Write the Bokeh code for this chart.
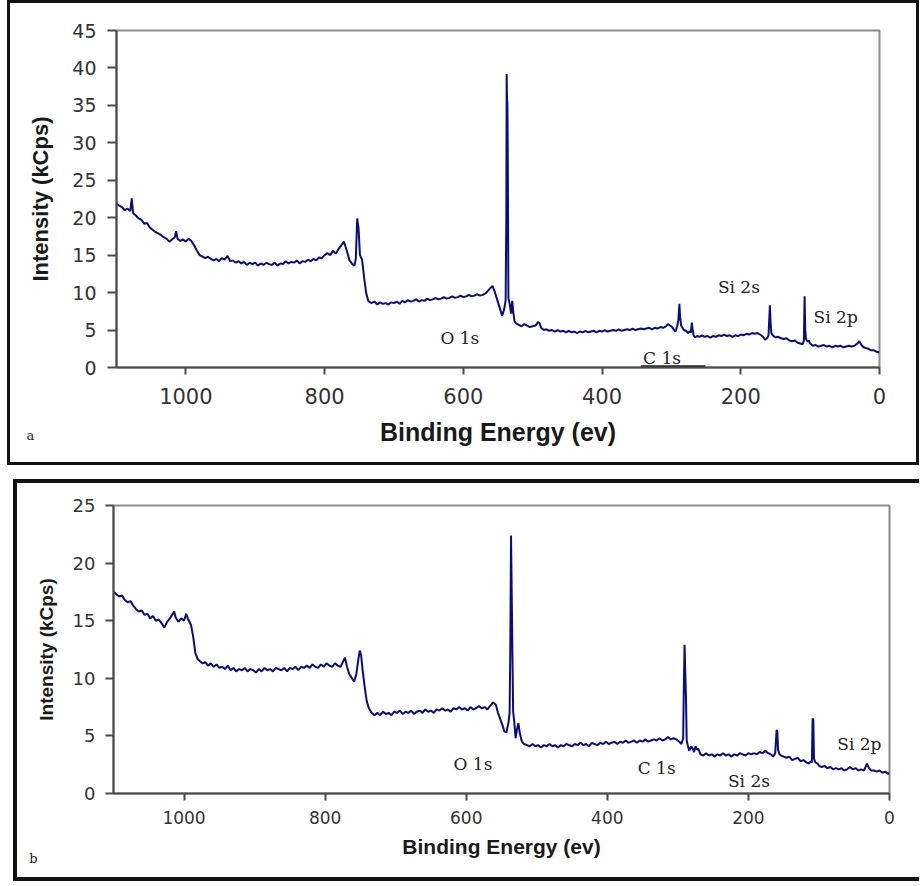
from bokeh.plotting import figure
from bokeh.layouts import column
from bokeh.models import Range1d, FixedTicker, Label
from bokeh.embed import file_html
from bokeh.resources import INLINE

# ---------------- data: panel a ----------------
energy_a = [1100,1096,1092,1088,1084,1080,1078,1076,1072,1068,1064,1060,1056,1052,1048,1044,1040,1036,1032,1028,
            1024,1020,1016,1014,1012,1008,1004,1000,996,992,988,984,980,976,972,968,964,960,956,952,
            948,944,940,936,932,928,924,920,916,912,908,904,900,896,892,888,884,880,876,872,
            868,864,860,856,852,848,844,840,836,832,828,824,820,816,812,808,804,800,796,792,
            788,784,780,776,772,768,764,760,757,755,753,751,749,746,743,740,737,733,728,724,
            720,716,712,708,704,700,696,692,688,684,680,676,672,668,664,660,656,652,648,644,
            640,636,632,628,624,620,616,612,608,604,600,596,592,588,584,580,576,572,568,564,
            561,558,555,552,549,546,544,541,539,538,537.5,537,536.5,536,535.5,535,533,531,529.5,528,
            526,524,520,516,512,508,504,500,496,492,490,488,484,480,476,472,468,464,460,456,
            452,448,444,440,436,432,428,424,420,416,412,408,404,400,396,392,388,384,380,376,
            372,368,364,360,356,352,348,344,340,336,332,328,324,320,316,312,308,305,302,299,
            296,294,292,290,288.5,287.5,286,284,282,279,276,274,272,270.5,269.5,268,266,263,260,256,
            252,248,244,240,236,232,228,224,220,216,212,208,204,200,196,192,188,184,180,176,
            172,168,165,162,160,158,157,156,154,150,146,142,138,134,130,126,122,118,114,111,
            109,108,107,106,104,102,100,96,92,88,84,80,76,72,68,64,60,56,52,48,
            44,40,36,32,29,26,23,20,16,12,8,4,0]
intensity_a = [21.9,21.6,21.4,21.0,21.2,20.9,22.6,20.6,20.3,19.9,19.7,19.2,19.3,18.7,18.4,18.1,17.9,17.7,17.4,17.2,
               16.8,17.1,17.4,18.2,17.2,16.9,17.1,16.8,17.2,16.9,16.3,15.6,15.0,14.8,14.6,14.8,14.5,14.3,14.5,14.2,
               14.6,14.4,14.9,14.2,14.3,14.0,14.2,13.9,14.1,13.7,14.0,13.8,14.0,13.6,13.9,13.7,14.0,13.8,13.7,14.0,
               13.6,13.9,13.8,14.2,13.9,14.1,14.0,14.3,13.9,14.2,14.1,14.4,14.2,14.5,14.3,14.7,14.6,15.0,15.3,15.0,
               15.6,15.2,15.8,16.3,16.8,15.6,14.3,13.8,13.6,14.5,19.9,18.5,15.0,14.4,12.0,9.9,8.9,8.6,8.8,8.4,
               8.7,8.5,8.6,8.4,8.7,8.6,8.8,8.5,8.9,8.7,9.0,8.8,8.9,9.1,8.8,9.0,8.9,9.2,9.0,9.1,
               9.3,9.1,9.2,9.4,9.2,9.3,9.5,9.3,9.4,9.6,9.4,9.5,9.7,9.5,9.6,9.8,9.6,9.7,9.9,10.3,
               10.6,10.9,10.2,9.3,8.4,7.5,6.9,7.8,9.0,20.0,39.2,36.0,35.2,30.0,20.0,9.3,8.4,7.2,8.9,7.4,
               6.1,5.9,5.7,5.5,5.8,5.6,5.4,5.5,5.6,6.1,5.9,5.3,5.0,5.1,4.9,5.0,4.8,5.0,4.8,4.9,
               4.7,4.9,4.7,4.8,4.6,4.8,4.7,4.9,4.7,4.8,4.9,4.7,4.9,4.8,5.0,4.8,4.9,5.0,4.9,5.1,
               4.9,5.0,5.1,5.0,5.2,5.0,5.1,5.2,5.1,5.2,5.3,5.1,5.3,5.2,5.4,5.3,5.5,5.8,5.6,5.4,
               5.0,4.8,5.4,6.3,8.5,6.8,5.6,5.3,5.0,4.9,4.6,4.8,4.7,6.0,5.2,4.3,4.0,4.2,4.1,4.3,
               4.1,4.2,4.0,4.2,4.1,4.3,4.2,4.4,4.2,4.3,4.1,4.3,4.2,4.4,4.3,4.5,4.4,4.6,4.5,4.6,
               4.4,4.1,3.7,3.9,4.3,8.3,6.0,4.6,4.3,4.0,4.1,3.9,3.8,3.9,3.6,3.5,3.6,3.3,3.2,3.1,
               3.6,9.5,5.0,3.8,3.5,3.6,3.2,2.9,3.0,2.8,2.9,3.0,2.8,2.9,2.7,2.9,2.8,2.9,2.7,2.8,
               2.9,2.8,2.9,3.2,3.5,3.0,2.7,2.6,2.5,2.3,2.3,2.1,2.0]

# ---------------- data: panel b ----------------
energy_b = [1100,1096,1092,1088,1084,1080,1076,1072,1068,1064,1060,1056,1052,1048,1044,1040,1036,1032,1028,1024,
            1020,1016,1014,1012,1008,1004,1000,997,994,990,987,984,981,978,974,970,966,962,958,954,
            950,946,942,938,934,930,926,922,918,914,910,906,902,898,894,890,886,882,878,874,
            870,866,862,858,854,850,846,842,838,834,830,826,822,818,814,810,806,802,798,794,
            790,786,782,778,775,772,769,766,762,759,756,753,751,749,747,744,741,738,734,730,
            726,722,718,714,710,706,702,698,694,690,686,682,678,674,670,666,662,658,654,650,
            646,642,638,634,630,626,622,618,614,610,606,602,598,594,590,586,582,578,574,570,
            566,562,558,555,552,549,546,543,540,538.5,537.5,536.5,535.5,534.5,533.5,532,530,528,526,524,
            521,518,514,510,506,502,498,494,490,486,482,478,474,470,466,462,458,454,450,446,
            442,438,434,430,426,422,418,414,410,406,402,398,394,390,386,382,378,374,370,366,
            362,358,354,350,346,342,338,334,330,326,322,318,314,310,306,302,298,295,292.5,291.5,
            290.5,289.5,288.5,287.5,286,284,281,279,277,275,273,271,268,264,260,256,252,248,244,240,
            236,232,228,224,220,216,212,208,204,200,196,192,188,184,180,176,172,168,165,162,
            160,159,158,156,154,150,146,142,138,134,130,126,122,118,114,112,110,109,108,107,
            105,102,100,96,92,88,84,80,76,72,68,64,60,56,52,48,44,40,36,32,
            29,26,22,18,14,10,6,2,0]
intensity_b = [17.5,17.3,17.1,17.2,16.8,16.6,16.7,16.3,16.0,15.8,15.9,15.5,15.6,15.2,15.4,15.0,15.1,14.8,14.4,14.9,
               15.2,15.6,15.8,15.3,14.9,15.2,15.0,15.6,15.1,14.6,13.6,12.2,11.7,11.5,11.3,11.4,11.1,11.3,11.0,11.2,
               10.9,11.0,10.8,11.1,10.7,10.9,10.6,10.8,10.7,10.9,10.6,10.8,10.7,10.5,10.8,10.6,10.9,10.7,10.8,10.6,
               10.9,10.8,10.7,10.9,10.6,10.9,10.8,11.0,10.7,11.0,10.9,11.1,10.9,11.2,11.0,10.9,11.2,11.0,11.3,11.1,
               11.0,11.3,11.1,11.0,11.4,11.8,11.0,10.4,10.0,9.7,10.3,11.6,12.4,12.0,10.8,9.3,8.0,7.4,7.0,6.8,
               7.0,6.8,7.1,6.9,7.0,6.8,7.1,7.0,7.2,6.9,7.1,7.0,7.2,6.9,7.1,7.2,7.0,7.3,7.1,7.2,
               7.0,7.3,7.2,7.4,7.2,7.3,7.1,7.4,7.3,7.5,7.3,7.4,7.2,7.5,7.3,7.4,7.6,7.4,7.5,7.3,
               7.6,7.9,7.7,7.0,6.5,6.0,5.4,5.3,6.2,7.0,12.6,22.4,17.3,12.0,7.1,6.3,4.8,5.6,6.1,5.2,
               4.5,4.3,4.2,4.1,4.3,4.1,4.2,4.0,4.2,4.1,4.3,4.1,4.2,4.0,4.2,4.1,4.3,4.2,4.1,4.3,
               4.2,4.4,4.2,4.3,4.1,4.4,4.3,4.2,4.4,4.3,4.5,4.3,4.4,4.5,4.3,4.5,4.4,4.6,4.4,4.5,
               4.6,4.4,4.6,4.5,4.7,4.5,4.6,4.7,4.6,4.8,4.6,4.7,4.9,4.7,4.8,4.7,4.5,4.3,4.8,9.4,
               12.9,10.5,8.4,4.6,4.2,3.7,4.1,3.9,3.6,4.1,3.8,3.9,3.4,3.3,3.5,3.3,3.4,3.2,3.4,3.3,
               3.5,3.3,3.4,3.2,3.4,3.3,3.5,3.4,3.3,3.5,3.4,3.5,3.4,3.6,3.5,3.7,3.5,3.4,3.2,3.5,
               5.5,5.4,3.8,3.4,3.3,3.2,3.1,3.2,2.9,3.0,3.1,2.8,2.9,2.7,2.6,2.8,2.7,6.5,6.4,3.0,
               2.7,2.6,2.4,2.3,2.4,2.2,2.3,2.1,2.2,2.1,2.2,2.0,2.1,2.3,2.1,2.2,2.0,2.1,2.0,2.6,
               2.2,2.0,2.0,1.9,2.0,1.8,1.9,1.7,1.8]

x_ticks = [0, 200, 400, 600, 800, 1000]
y_ticks_a = [0, 5, 10, 15, 20, 25, 30, 35, 40, 45]
y_ticks_b = [0, 5, 10, 15, 20, 25]

labels_a = ["O 1s", "Si 2s", "Si 2p", "C 1s"]
labels_b = ["O 1s", "C 1s", "Si 2s", "Si 2p"]

LINE = "#0c0c82"
AXIS = "#4a4a4a"
TICKC = "#333333"
TITLEC = "#1a1a1a"
FRAME = "#111111"


def style(p, tick_x, tick_y, title_x, title_y, yt_out, y_std, y_tstd, x_std, x_tstd):
    p.xgrid.visible = False
    p.ygrid.visible = False
    p.outline_line_color = "#8a8a8a"
    p.outline_line_width = 2
    p.background_fill_color = "white"
    p.border_fill_color = None
    try:
        p.frame_align = False
    except Exception:
        pass
    for ax in (p.xaxis[0], p.yaxis[0]):
        ax.axis_line_color = AXIS
        ax.axis_line_width = 2
        ax.major_tick_line_color = AXIS
        ax.major_tick_line_width = 2
        ax.major_tick_in = 0
        ax.minor_tick_line_color = None
        ax.major_label_text_color = TICKC
        ax.major_label_text_font = "DejaVu Sans"
        ax.axis_label_text_color = TITLEC
        ax.axis_label_text_font = "Liberation Sans"
        ax.axis_label_text_font_style = "bold"
    p.xaxis.major_tick_out = 7
    p.yaxis.major_tick_out = yt_out
    p.xaxis.major_label_text_font_size = tick_x
    p.yaxis.major_label_text_font_size = tick_y
    p.xaxis.axis_label_text_font_size = title_x
    p.yaxis.axis_label_text_font_size = title_y
    p.yaxis.major_label_standoff = y_std
    p.yaxis.axis_label_standoff = y_tstd
    p.xaxis.major_label_standoff = x_std
    p.xaxis.axis_label_standoff = x_tstd


def note(p, x, y, t, size="17px"):
    p.add_layout(Label(x=x, y=y, text=t, text_font="DejaVu Serif", text_font_size=size,
                       text_color="#222222", text_baseline="middle", text_align="left"))


def corner(p, sx, sy, t):
    # placed in the bottom side panel so that it is not clipped to the plot frame
    p.add_layout(Label(x=sx, y=sy, x_units="screen", y_units="screen", text=t,
                       text_font="DejaVu Serif", text_font_size="13px", text_color="#222222",
                       text_baseline="middle", text_align="center"), "below")


def frame_css(lines):
    imgs = ", ".join(["linear-gradient(%s, %s)" % (FRAME, FRAME)] * len(lines))
    pos = ", ".join("%dpx %dpx" % (x, y) for x, y, _, _ in lines)
    size = ", ".join("%dpx %dpx" % (lw, lh) for _, _, lw, lh in lines)
    return {"background-color": "white", "background-image": imgs,
            "background-position": pos, "background-size": size,
            "background-repeat": "no-repeat"}


# ---------------- panel a ----------------
W1, H1 = 919, 465
p1 = figure(width=W1, height=H1, output_backend="svg", toolbar_location=None,
            x_range=Range1d(1100, 0), y_range=Range1d(0, 45),
            min_border_left=116, min_border_right=40, min_border_top=30, min_border_bottom=98,
            x_axis_label="Binding Energy (ev)", y_axis_label="Intensity (kCps)")
p1.line(energy_a, intensity_a, line_color=LINE, line_width=2)
p1.xaxis.ticker = FixedTicker(ticks=x_ticks)
p1.yaxis.ticker = FixedTicker(ticks=y_ticks_a)
style(p1, "21px", "19px", "25px", "22px", 9, 11, 16, 13, 11)
p1.segment(x0=[344], y0=[0.1], x1=[251], y1=[0.1], line_color="#222222", line_width=3)
note(p1, 633, 3.9, labels_a[0])
note(p1, 233, 10.7, labels_a[1])
note(p1, 95, 6.7, labels_a[2])
note(p1, 341, 1.3, labels_a[3])
corner(p1, -86, 28, "a")
p1.styles = frame_css([(7, 0, 3, H1), (916, 0, 3, H1), (7, 0, 912, 3), (7, H1 - 3, 912, 3)])

# ---------------- panel b ----------------
W2, H2 = 919, 402
p2 = figure(width=W2, height=H2, output_backend="svg", toolbar_location=None,
            x_range=Range1d(1100, 0), y_range=Range1d(0, 25),
            min_border_left=113, min_border_right=30, min_border_top=26, min_border_bottom=88,
            x_axis_label="Binding Energy (ev)", y_axis_label="Intensity (kCps)")
p2.line(energy_b, intensity_b, line_color=LINE, line_width=2)
p2.xaxis.ticker = FixedTicker(ticks=x_ticks)
p2.yaxis.ticker = FixedTicker(ticks=y_ticks_b)
style(p2, "17px", "18px", "21px", "19px", 8, 10, 13, 10, 8)
note(p2, 618, 2.6, labels_b[0])
note(p2, 357, 2.2, labels_b[1])
note(p2, 229, 1.1, labels_b[2])
note(p2, 74, 4.3, labels_b[3])
corner(p2, -80, 17, "b")
p2.styles = frame_css([(13, 0, 4, H2), (13, 0, 906, 4), (13, H2 - 4, 906, 4)])

layout = column(p1, p2, spacing=14)

open("out.html", "w").write(file_html(layout, INLINE))
